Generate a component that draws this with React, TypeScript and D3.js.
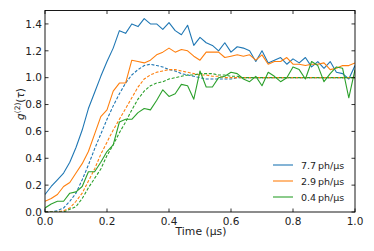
import React from "react";
import * as d3 from "d3";

const times = [0.00,0.02,0.04,0.06,0.08,0.10,0.12,0.14,0.16,0.18,0.20,0.22,0.24,0.26,0.28,0.30,0.32,0.34,0.36,0.38,0.40,0.42,0.44,0.46,0.48,0.50,0.52,0.54,0.56,0.58,0.60,0.62,0.64,0.66,0.68,0.70,0.72,0.74,0.76,0.78,0.80,0.82,0.84,0.86,0.88,0.90,0.92,0.94,0.96,0.98,1.00];

const blueMeasured = [0.13,0.19,0.24,0.29,0.37,0.48,0.61,0.77,0.89,1.01,1.12,1.22,1.35,1.33,1.40,1.38,1.44,1.40,1.40,1.36,1.41,1.35,1.32,1.39,1.24,1.30,1.26,1.24,1.20,1.26,1.19,1.23,1.22,1.20,1.12,1.20,1.11,1.13,1.15,1.10,1.14,1.11,1.15,1.08,1.12,1.07,1.12,1.04,1.03,0.99,1.09];
const orangeMeasured = [0.08,0.10,0.13,0.19,0.22,0.29,0.36,0.45,0.58,0.71,0.76,0.90,0.96,0.96,1.13,1.12,1.11,1.13,1.17,1.19,1.22,1.19,1.21,1.20,1.16,1.13,1.19,1.19,1.19,1.15,1.16,1.17,1.16,1.17,1.13,1.17,1.10,1.12,1.12,1.15,1.10,1.10,1.09,1.10,1.10,1.11,1.06,1.07,1.09,1.09,1.11];
const greenMeasured = [0.03,0.06,0.08,0.08,0.14,0.15,0.19,0.30,0.30,0.37,0.45,0.50,0.67,0.69,0.69,0.74,0.77,0.76,0.83,0.91,0.86,0.88,0.95,0.94,0.84,1.05,0.93,0.93,1.00,1.01,1.04,1.03,0.99,0.97,1.01,0.94,1.04,1.01,0.97,1.00,1.08,1.06,0.99,1.12,1.09,0.97,1.03,1.08,1.07,0.85,1.06];

const blueModel = [0.00,0.00,0.01,0.03,0.08,0.14,0.24,0.35,0.47,0.58,0.69,0.79,0.88,0.96,1.02,1.06,1.09,1.10,1.09,1.08,1.06,1.05,1.03,1.02,1.01,1.00,0.99,0.99,0.99,0.99,0.99,1.00,1.00,1.00,1.00,1.00,1.00,1.00,1.00,1.00,1.00,1.00,1.00,1.00,1.00,1.00,1.00,1.00,1.00,1.00,1.00];
const orangeModel = [0.00,0.00,0.00,0.01,0.03,0.08,0.14,0.23,0.32,0.43,0.52,0.61,0.69,0.77,0.85,0.93,0.99,1.02,1.04,1.05,1.06,1.06,1.05,1.04,1.03,1.02,1.02,1.01,1.01,1.00,1.00,1.00,1.00,1.00,1.00,1.00,1.00,1.00,1.00,1.00,1.00,1.00,1.00,1.00,1.00,1.00,1.00,1.00,1.00,1.00,1.00];
const greenModel = [0.00,0.00,0.00,0.00,0.02,0.04,0.10,0.18,0.25,0.32,0.42,0.50,0.59,0.67,0.76,0.84,0.90,0.94,0.96,0.97,0.99,1.00,1.01,1.02,1.02,1.03,1.03,1.03,1.02,1.02,1.01,1.01,1.00,1.00,1.00,1.00,1.00,1.00,1.00,1.00,1.00,1.00,1.00,1.00,1.00,1.00,1.00,1.00,1.00,1.00,1.00];

const seriesLabels = ["7.7\u2009ph/\u03bcs", "2.9\u2009ph/\u03bcs", "0.4\u2009ph/\u03bcs"];
const seriesColors = ["#1f77b4", "#ff7f0e", "#2ca02c"];
const xTicks = [0, 0.2, 0.4, 0.6, 0.8, 1.0];
const yTicks = [0, 0.2, 0.4, 0.6, 0.8, 1.0, 1.2, 1.4];

const W = 374, H = 251;
const L = 45, R = 355, T = 10.5, B = 212;

export default function App() {
  const x = d3.scaleLinear().domain([0, 1]).range([L, R]);
  const y = d3.scaleLinear().domain([0, 1.5]).range([B, T]);
  const line = d3.line<number>().x((_, i) => x(times[i])).y((d) => y(d));
  const measured = [blueMeasured, orangeMeasured, greenMeasured];
  const models = [blueModel, orangeModel, greenModel];
  const font = "DejaVu Sans, sans-serif";
  const fs = 10.5;
  const tl = 3.5;
  return (
    <svg width={W} height={H} style={{ position: "absolute", left: 0, top: 0, background: "#fff" }} fontFamily={font}>
      <defs>
        <clipPath id="plot"><rect x={L} y={T} width={R - L} height={B - T} /></clipPath>
      </defs>
      <g clipPath="url(#plot)" fill="none">
        {measured.map((s, k) => (
          <g key={k}>
            <path d={line(s) || ""} stroke={seriesColors[k]} strokeWidth={1.1} strokeLinejoin="round" />
            <path d={line(models[k]) || ""} stroke={seriesColors[k]} strokeWidth={1.1} strokeDasharray="3,1.7" />
          </g>
        ))}
      </g>
      <rect x={L} y={T} width={R - L} height={B - T} fill="none" stroke="#000" strokeWidth={0.9} />
      {xTicks.map((t) => (
        <g key={"x" + t}>
          <line x1={x(t)} x2={x(t)} y1={B} y2={B - tl} stroke="#000" strokeWidth={0.8} />
          <line x1={x(t)} x2={x(t)} y1={T} y2={T + tl} stroke="#000" strokeWidth={0.8} />
          <text x={x(t)} y={224.5} fontSize={fs} textAnchor="middle" fill="#222">{d3.format(".1f")(t)}</text>
        </g>
      ))}
      {yTicks.map((t) => (
        <g key={"y" + t}>
          <line x1={L} x2={L + tl} y1={y(t)} y2={y(t)} stroke="#000" strokeWidth={0.8} />
          <line x1={R} x2={R - tl} y1={y(t)} y2={y(t)} stroke="#000" strokeWidth={0.8} />
          <text x={42} y={y(t) + 3.8} fontSize={fs} textAnchor="end" fill="#222">{d3.format(".1f")(t)}</text>
        </g>
      ))}
      <text x={(L + R) / 2 + 1} y={235} fontSize={10.8} textAnchor="middle" fill="#222">Time (μs)</text>
      <text transform={`translate(24,104) rotate(-90)`} fontSize={fs} textAnchor="middle" fill="#222">
        <tspan fontStyle="italic">g</tspan>
        <tspan fontSize={7.5} dy={-4.5}>(2)</tspan>
        <tspan dy={4.5}>(</tspan>
        <tspan fontStyle="italic">τ</tspan>
        <tspan>)</tspan>
      </text>
      {seriesLabels.map((lab, k) => (
        <g key={lab}>
          <line x1={273} x2={293} y1={165 + k * 16} y2={165 + k * 16} stroke={seriesColors[k]}
            strokeWidth={k < 2 ? 2 : 1.1} strokeOpacity={k < 2 ? 0.55 : 1} />
          <text x={301} y={165 + k * 16 + 3.5} fontSize={9.5} fill="#222">{lab}</text>
        </g>
      ))}
    </svg>
  );
}
